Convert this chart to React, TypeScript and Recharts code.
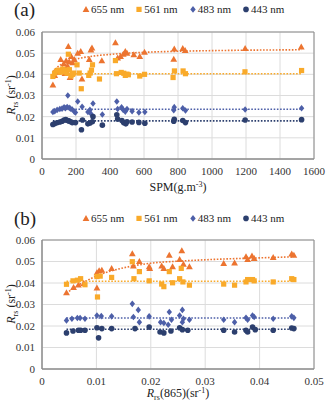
import React from "react";
import {
  CartesianGrid,
  ComposedChart,
  Line,
  ReferenceArea,
  Scatter,
  XAxis,
  YAxis,
} from "recharts";

type Pt = [number, number];

const FONT = '"Liberation Serif", "Times New Roman", serif';
const C655 = "#EC7430";
const C561 = "#F9AA2A";
const C483 = "#4D5FA8";
const C443 = "#2C3F6E";

const bands = ["655 nm", "561 nm", "483 nm", "443 nm"];
const yTicks = [0, 0.01, 0.02, 0.03, 0.04, 0.05, 0.06];
const spmTicks = [0, 200, 400, 600, 800, 1000, 1200, 1400, 1600];
const rrsTicks = [0, 0.01, 0.02, 0.03, 0.04, 0.05];

// (a) Rrs against SPM
const spm655: Pt[] = [
  [64, 0.035], [75, 0.0395], [90, 0.041], [110, 0.047], [120, 0.0425], [128, 0.045],
  [135, 0.0405], [142, 0.0465], [150, 0.044], [155, 0.0532], [160, 0.046], [165, 0.0385],
  [172, 0.0485], [180, 0.0455], [190, 0.047], [210, 0.05], [228, 0.0508], [235, 0.0378],
  [278, 0.047], [288, 0.0515], [294, 0.0525], [352, 0.0465], [432, 0.055], [445, 0.0478],
  [462, 0.0485], [478, 0.0495], [490, 0.0508], [500, 0.05], [540, 0.0493], [575, 0.0485],
  [603, 0.0505], [775, 0.0472], [778, 0.052], [828, 0.0523], [842, 0.0513], [1195, 0.0523],
  [1525, 0.053],
];
const spm561: Pt[] = [
  [64, 0.039], [74, 0.0405], [85, 0.0415], [97, 0.042], [110, 0.041], [122, 0.0425],
  [130, 0.0415], [136, 0.0412], [142, 0.042], [147, 0.0405], [155, 0.0495], [161, 0.0422],
  [171, 0.0392], [180, 0.04], [186, 0.0406], [206, 0.0445], [219, 0.0406], [231, 0.0332],
  [275, 0.0395], [283, 0.0406], [291, 0.042], [297, 0.0445], [338, 0.0378], [432, 0.0465],
  [438, 0.0403], [466, 0.0409], [481, 0.0405], [490, 0.0395], [500, 0.0401], [508, 0.0398],
  [575, 0.0392], [603, 0.04], [771, 0.0385], [779, 0.0416], [830, 0.0416], [844, 0.0403],
  [1194, 0.0412], [1527, 0.0418],
];
const spm483: Pt[] = [
  [64, 0.0222], [75, 0.0226], [89, 0.0232], [105, 0.0236], [118, 0.0238], [130, 0.0244],
  [138, 0.024], [148, 0.0246], [152, 0.03], [160, 0.0242], [167, 0.0238], [178, 0.0234],
  [190, 0.0224], [197, 0.022], [210, 0.0272], [236, 0.0247], [270, 0.0222], [282, 0.0232],
  [288, 0.0214], [300, 0.0262], [355, 0.021], [440, 0.0272], [445, 0.0236], [468, 0.0244],
  [478, 0.0232], [490, 0.0224], [500, 0.0236], [530, 0.0226], [570, 0.022], [605, 0.0222],
  [775, 0.023], [778, 0.0245], [828, 0.024], [844, 0.0229], [1195, 0.0234], [1527, 0.024],
];
const spm443: Pt[] = [
  [64, 0.0163], [75, 0.0168], [89, 0.0171], [105, 0.0175], [118, 0.0178], [130, 0.0184],
  [140, 0.0186], [150, 0.0182], [158, 0.018], [168, 0.0176], [178, 0.0172], [197, 0.0172],
  [232, 0.0138], [238, 0.0184], [270, 0.0166], [282, 0.017], [296, 0.0176], [300, 0.02],
  [355, 0.016], [440, 0.0209], [445, 0.0189], [470, 0.0182], [480, 0.0172], [493, 0.0166],
  [500, 0.0176], [530, 0.0175], [570, 0.0173], [605, 0.0169], [775, 0.0178], [778, 0.0188],
  [828, 0.0182], [844, 0.0172], [1195, 0.0184], [1527, 0.0186],
];
// trend lines
const spmTrend655: Pt[] = [
  [64, 0.0412], [100, 0.044], [150, 0.046], [200, 0.0472], [300, 0.0486], [400, 0.0494],
  [500, 0.05], [600, 0.0504], [800, 0.0509], [1000, 0.0512], [1200, 0.0514], [1527, 0.0516],
];
const spmTrend561: Pt[] = [[64, 0.0403], [1527, 0.0403]];
const spmTrend483: Pt[] = [[64, 0.0235], [1527, 0.0235]];
const spmTrend443: Pt[] = [[64, 0.018], [1527, 0.018]];

// (b) Rrs against Rrs(865)
const nir655: Pt[] = [
  [0.0045, 0.0355], [0.0058, 0.038], [0.0067, 0.0391], [0.0077, 0.0398], [0.0101, 0.0448],
  [0.0101, 0.0377], [0.0105, 0.0457], [0.011, 0.046], [0.0128, 0.0468], [0.0166, 0.0536],
  [0.0168, 0.0479], [0.0179, 0.05], [0.0197, 0.0476], [0.0198, 0.0468], [0.022, 0.0479],
  [0.0224, 0.0468], [0.0234, 0.053], [0.024, 0.0476], [0.0253, 0.051], [0.0257, 0.055],
  [0.026, 0.0488], [0.0271, 0.0476], [0.0334, 0.0491], [0.0354, 0.0494], [0.0375, 0.0522],
  [0.0378, 0.051], [0.0386, 0.0526], [0.039, 0.0514], [0.0425, 0.0519], [0.0459, 0.0535],
  [0.0463, 0.053],
];
const nir561: Pt[] = [
  [0.0045, 0.0394], [0.0057, 0.041], [0.0065, 0.0413], [0.0071, 0.042], [0.0079, 0.0392],
  [0.0101, 0.043], [0.0102, 0.0335], [0.0107, 0.0432], [0.0128, 0.0426], [0.0166, 0.0499],
  [0.0169, 0.042], [0.0179, 0.0453], [0.0197, 0.041], [0.022, 0.0395], [0.0224, 0.0383],
  [0.0234, 0.0453], [0.024, 0.0401], [0.0253, 0.042], [0.0256, 0.0468], [0.0259, 0.0405],
  [0.0271, 0.039], [0.0334, 0.0395], [0.0354, 0.039], [0.0375, 0.0405], [0.0378, 0.0416],
  [0.0387, 0.0416], [0.039, 0.041], [0.0425, 0.0405], [0.0459, 0.042], [0.0463, 0.0416],
];
const nir483: Pt[] = [
  [0.0045, 0.0226], [0.0055, 0.0234], [0.0065, 0.0237], [0.007, 0.0237], [0.0079, 0.0234],
  [0.0101, 0.0249], [0.0109, 0.0246], [0.0128, 0.0245], [0.0166, 0.0303], [0.0168, 0.0242],
  [0.0177, 0.0275], [0.0179, 0.0218], [0.0197, 0.0245], [0.0218, 0.0218], [0.0224, 0.0214],
  [0.0232, 0.0206], [0.0234, 0.0265], [0.0238, 0.0229], [0.0253, 0.0249], [0.0258, 0.0275],
  [0.0258, 0.0218], [0.026, 0.0234], [0.0271, 0.0229], [0.0334, 0.0229], [0.0354, 0.0218],
  [0.0375, 0.0238], [0.0378, 0.0229], [0.0387, 0.0249], [0.039, 0.0242], [0.0425, 0.0234],
  [0.0459, 0.0245], [0.0463, 0.0238],
];
const nir443: Pt[] = [
  [0.0045, 0.0168], [0.0057, 0.0177], [0.0067, 0.018], [0.0071, 0.018], [0.0079, 0.018],
  [0.0101, 0.0192], [0.0104, 0.0145], [0.011, 0.0188], [0.0128, 0.0188], [0.0171, 0.0188],
  [0.0197, 0.0195], [0.0217, 0.0172], [0.0224, 0.0168], [0.0237, 0.0177], [0.0253, 0.0192],
  [0.0258, 0.0183], [0.0268, 0.018], [0.0334, 0.018], [0.0354, 0.0172], [0.0375, 0.018],
  [0.0378, 0.0172], [0.0387, 0.0195], [0.0392, 0.0183], [0.0425, 0.018], [0.0459, 0.0191],
  [0.0463, 0.0188],
];
const nirTrend655: Pt[] = [
  [0.0045, 0.0352], [0.006, 0.038], [0.008, 0.0408], [0.0107, 0.044], [0.013, 0.0458],
  [0.0168, 0.048], [0.02, 0.0492], [0.0253, 0.0502], [0.03, 0.0508], [0.035, 0.0513],
  [0.04, 0.0517], [0.0463, 0.0522],
];
const nirTrend561: Pt[] = [[0.0045, 0.0408], [0.0463, 0.0408]];
const nirTrend483: Pt[] = [[0.0045, 0.0237], [0.0463, 0.0237]];
const nirTrend443: Pt[] = [[0.0045, 0.0185], [0.0463, 0.0185]];

const rows = (pts: Pt[]) => pts.map(([x, y]) => ({ x, y }));

const colors = [C655, C561, C483, C443];

// marker glyphs, centred on the point recharts hands us
function glyph(i: number, x: number, y: number, key?: string) {
  const c = colors[i];
  if (i === 0)
    return <polygon key={key} points={`${x},${y - 3.4} ${x + 3.4},${y + 2.6} ${x - 3.4},${y + 2.6}`} fill={c} />;
  if (i === 1) return <rect key={key} x={x - 2.6} y={y - 2.6} width={5.2} height={5.2} fill={c} />;
  if (i === 2)
    return <polygon key={key} points={`${x},${y - 3.3} ${x + 2.7},${y} ${x},${y + 3.3} ${x - 2.7},${y}`} fill={c} />;
  return <circle key={key} cx={x} cy={y} r={2.8} fill={c} />;
}

const shapeFor = (i: number) => (p: any) => glyph(i, p.cx, p.cy);

// serif tick labels drawn by hand so the font sticks
function XTick({ x, y, payload }: any) {
  return (
    <text x={x} y={y} dy="0.71em" textAnchor="middle" fill="#333" fontSize={11} fontFamily={FONT}>
      {String(payload.value)}
    </text>
  );
}
function YTick({ x, y, payload }: any) {
  return (
    <text x={x} y={y} dy="0.355em" textAnchor="end" fill="#333" fontSize={11} fontFamily={FONT}>
      {String(payload.value)}
    </text>
  );
}

function Marker({ i }: { i: number }) {
  return (
    <svg width={8} height={8} style={{ marginRight: 1 }}>
      {glyph(i, 4, 4.4)}
    </svg>
  );
}

function LegendRow({ top }: { top: number }) {
  return (
    <div
      style={{
        position: "absolute",
        top,
        left: 82,
        display: "flex",
        alignItems: "center",
        fontSize: 11,
        fontFamily: FONT,
        color: "#222",
        whiteSpace: "nowrap",
      }}
    >
      {bands.map((b, i) => (
        <span key={b} style={{ display: "flex", alignItems: "center", marginRight: 11 }}>
          <Marker i={i} />
          {b}
        </span>
      ))}
    </div>
  );
}

function YTitle({ cy }: { cy: number }) {
  return (
    <div
      style={{
        position: "absolute",
        left: 11,
        top: cy,
        transform: "translate(-50%, -50%) rotate(-90deg)",
        fontSize: 12,
        whiteSpace: "nowrap",
        color: "#222",
      }}
    >
      <i>R</i>
      <span style={{ fontSize: 8, position: "relative", top: 3 }}>rs</span> (sr
      <span style={{ fontSize: 8, position: "relative", top: -4 }}>-1</span>)
    </div>
  );
}

interface PanelProps {
  top: number;
  height: number;
  margin: { top: number; right: number; bottom: number; left: number };
  series: Pt[][];
  trends: Pt[][];
  xDomain: [number, number];
  xTicks: number[];
}

function Panel({ top, height, margin, series, trends, xDomain, xTicks }: PanelProps) {
  return (
    <div style={{ position: "absolute", left: 0, top }}>
      <ComposedChart width={327} height={height} margin={margin}>
        <CartesianGrid stroke="#dcdcdc" strokeWidth={1} />
        <XAxis
          dataKey="x"
          type="number"
          domain={xDomain}
          ticks={xTicks}
          interval={0}
          tickLine={false}
          axisLine={{ stroke: "#8c8c8c" }}
          tick={<XTick />}
          height={20}
          allowDataOverflow
        />
        <YAxis
          type="number"
          domain={[0, 0.06]}
          ticks={yTicks}
          interval={0}
          tickLine={false}
          axisLine={{ stroke: "#8c8c8c" }}
          tick={<YTick />}
          tickSize={6}
          tickMargin={1}
          width={30}
        />
        <ReferenceArea
          x1={xDomain[0]}
          x2={xDomain[1]}
          y1={0}
          y2={0.06}
          fill="none"
          stroke="#8c8c8c"
          strokeWidth={1}
          ifOverflow="visible"
        />
        {series.map((s, i) => (
          <Scatter
            key={"s" + i}
            data={rows(s)}
            dataKey="y"
            fill={colors[i]}
            shape={shapeFor(i)}
            legendType="none"
            isAnimationActive={false}
          />
        ))}
        {trends.map((t, i) => (
          <Line
            key={"t" + i}
            data={rows(t)}
            dataKey="y"
            type="monotone"
            stroke={colors[i]}
            strokeWidth={1.6}
            strokeDasharray="1.6 1.6"
            dot={false}
            activeDot={false}
            isAnimationActive={false}
          />
        ))}
      </ComposedChart>
    </div>
  );
}

export default function App() {
  return (
    <div
      style={{
        position: "absolute",
        left: 0,
        top: 0,
        width: 327,
        height: 402,
        background: "#fff",
        fontFamily: FONT,
        overflow: "hidden",
      }}
    >
      <Panel
        top={0}
        height={200}
        margin={{ top: 32, right: 13, bottom: 21, left: 12 }}
        series={[spm655, spm561, spm483, spm443]}
        trends={[spmTrend655, spmTrend561, spmTrend483, spmTrend443]}
        xDomain={[0, 1600]}
        xTicks={spmTicks}
      />
      <Panel
        top={200}
        height={202}
        margin={{ top: 40, right: 13, bottom: 13, left: 12 }}
        series={[nir655, nir561, nir483, nir443]}
        trends={[nirTrend655, nirTrend561, nirTrend483, nirTrend443]}
        xDomain={[0, 0.05]}
        xTicks={rrsTicks}
      />
      <div style={{ position: "absolute", left: 14, top: -1, fontSize: 19, color: "#222" }}>(a)</div>
      <div style={{ position: "absolute", left: 14, top: 208, fontSize: 19, color: "#222" }}>(b)</div>
      <LegendRow top={3} />
      <LegendRow top={212} />
      <YTitle cy={95} />
      <YTitle cy={304} />
      <div
        style={{
          position: "absolute",
          left: 178,
          top: 187,
          transform: "translate(-50%, -50%)",
          fontSize: 12,
          whiteSpace: "nowrap",
          color: "#222",
        }}
      >
        SPM(g.m<span style={{ fontSize: 8, position: "relative", top: -4 }}>-3</span>)
      </div>
      <div
        style={{
          position: "absolute",
          left: 178,
          top: 393,
          transform: "translate(-50%, -50%)",
          fontSize: 12,
          whiteSpace: "nowrap",
          color: "#222",
        }}
      >
        <i>R</i>
        <span style={{ fontSize: 8, position: "relative", top: 3 }}>rs</span>(865)(sr
        <span style={{ fontSize: 8, position: "relative", top: -4 }}>-1</span>)
      </div>
    </div>
  );
}
